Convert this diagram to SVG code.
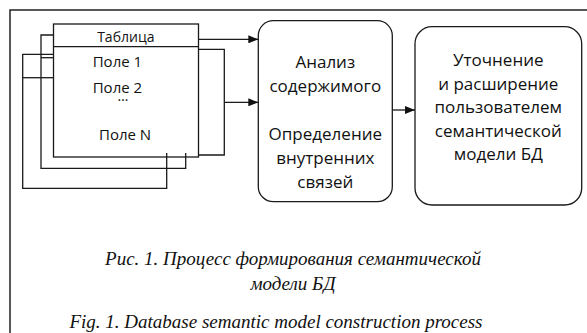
<svg xmlns="http://www.w3.org/2000/svg" width="587" height="333" viewBox="0 0 587 333">
<style>
.ln{fill:none;stroke:#1a1a1a;stroke-width:1.3}
.box{fill:#fff;stroke:#1a1a1a;stroke-width:1.3}
.t{font-family:"Open Sans","Noto Sans",sans-serif;fill:#111}
.bt{font-size:17px;text-anchor:middle}
.tt{font-size:14px}
.ft{font-size:15px}
.cap{font-family:"Liberation Serif","Times New Roman",serif;font-style:italic;font-size:19px;text-anchor:middle;fill:#111}
</style>
<defs>
<marker id="arr" viewBox="0 0 10 8" refX="10" refY="4" markerWidth="10" markerHeight="8" markerUnits="userSpaceOnUse" orient="auto">
<path d="M0,0 L10,4 L0,8 Z" fill="#111"/>
</marker>
</defs>
<path d="M10,333 V10 H587" fill="none" stroke="#222" stroke-width="1.5"/>
<g id="table">
<rect class="box" x="53.5" y="24" width="145" height="133"/>
<line class="ln" x1="53.5" y1="46.7" x2="198.5" y2="46.7"/>
<path class="ln" d="M53.5,35 H41 V168.3 H185.7 V153"/>
<line class="ln" x1="41" y1="57.7" x2="53.5" y2="57.7"/>
<path class="ln" d="M53.5,54.3 H22.7 V188.3 H166.7 V153"/>
<line class="ln" x1="22.7" y1="77.7" x2="53.5" y2="77.7"/>
<text class="t tt" x="125.8" y="41.7" text-anchor="middle">Таблица</text>
<text class="t ft" x="92.7" y="66.7">Поле 1</text>
<text class="t ft" x="92.7" y="93.3">Поле 2</text>
<text class="t tt" x="117.5" y="101">…</text>
<text class="t ft" x="99" y="140">Поле N</text>
</g>
<g id="analysis">
<rect class="box" x="258.3" y="20.7" width="134" height="181" rx="15" ry="15"/>
<text class="t bt" x="325.3" y="68.3">Анализ</text>
<text class="t bt" x="325.3" y="92.3">содержимого</text>
<text class="t bt" x="325.3" y="140">Определение</text>
<text class="t bt" x="325.3" y="164">внутренних</text>
<text class="t bt" x="325.3" y="188">связей</text>
</g>
<g id="refine">
<rect class="box" x="415" y="26.7" width="166.7" height="178.3" rx="17" ry="17"/>
<text class="t bt" x="498.3" y="66">Уточнение</text>
<text class="t bt" x="498.3" y="89.5">и расширение</text>
<text class="t bt" x="498.3" y="113">пользователем</text>
<text class="t bt" x="498.3" y="136.5">семантической</text>
<text class="t bt" x="498.3" y="160">модели БД</text>
</g>
<g id="connectors">
<line class="ln" x1="198.5" y1="39.3" x2="258.3" y2="39.3" marker-end="url(#arr)"/>
<path class="ln" d="M198.5,49.3 H224.3 V155 H198.5"/>
<line class="ln" x1="224.3" y1="102.3" x2="258.3" y2="102.3" marker-end="url(#arr)"/>
<line class="ln" x1="392.3" y1="110" x2="415" y2="110" marker-end="url(#arr)"/>
</g>
<g id="caption">
<text class="cap" x="293" y="265">Рис. 1. Процесс формирования семантической</text>
<text class="cap" x="293" y="290">модели БД</text>
<text class="cap" x="276" y="328">Fig. 1. Database semantic model construction process</text>
</g>
</svg>
